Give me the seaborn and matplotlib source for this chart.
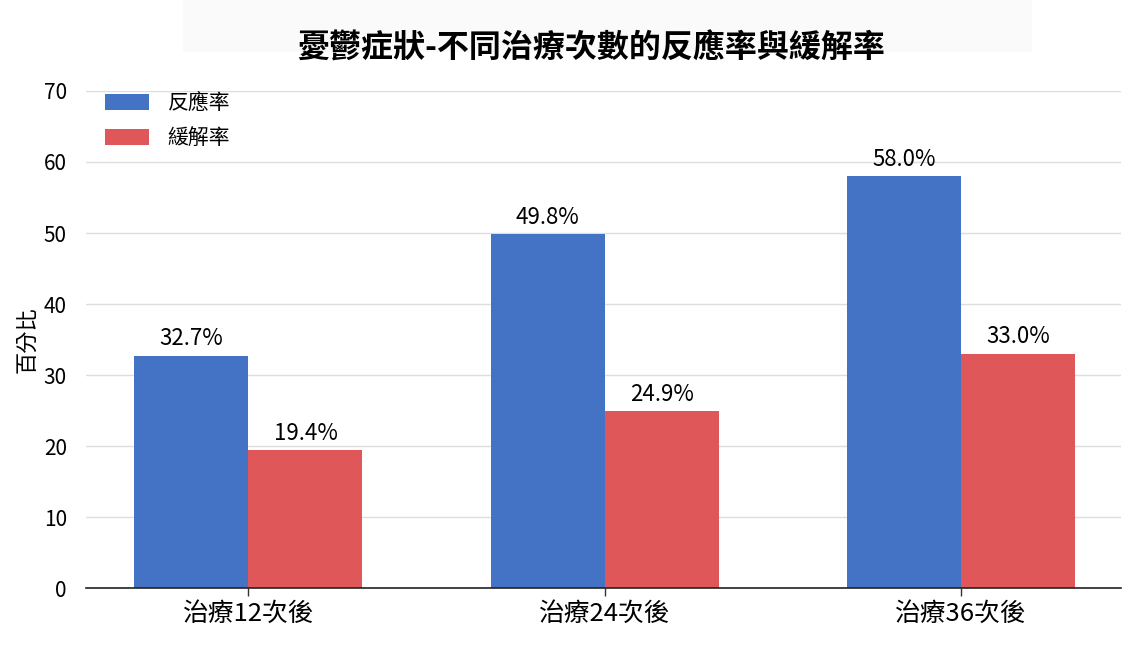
import pandas as pd
import matplotlib
matplotlib.use("Agg")
import matplotlib.pyplot as plt
import matplotlib.patches as mpatches
import seaborn as sns

# Data
groups = ['治療12次後', '治療24次後', '治療36次後']
response_rate = [32.7, 49.8, 58.0]
remission_rate = [19.4, 24.9, 33.0]
series_names = ['反應率', '緩解率']
colors = ['#4472C4', '#E05759']

df = pd.DataFrame({
    'group': groups * 2,
    'series': [series_names[0]] * 3 + [series_names[1]] * 3,
    'value': response_rate + remission_rate,
})

sns.set_theme(style='whitegrid')
plt.rcParams['font.family'] = ['Noto Sans CJK TC', 'DejaVu Sans']
plt.rcParams['text.color'] = 'black'
plt.rcParams['axes.labelcolor'] = 'black'
plt.rcParams['xtick.color'] = 'black'
plt.rcParams['ytick.color'] = 'black'

fig, ax = plt.subplots(figsize=(11.37, 6.45), dpi=100)
fig.subplots_adjust(left=0.076, right=0.986, top=0.859, bottom=0.088)

# faint title background
fig.patches.append(mpatches.Rectangle((0.161, 0.919), 0.747, 0.081,
                                      transform=fig.transFigure,
                                      facecolor='#fafafa', edgecolor='none', zorder=-1))

sns.barplot(data=df, x='group', y='value', hue='series', palette=colors,
            width=0.64, saturation=1, linewidth=0, ax=ax)

for cont in ax.containers:
    ax.bar_label(cont, fmt='%.1f%%', padding=4, fontsize=16)

ax.set_ylim(0, 70)
ax.set_xlim(-0.455, 2.45)
ax.set_yticks(range(0, 71, 10))
ax.set_xlabel('')
ax.set_ylabel('百分比', fontsize=16, labelpad=4)
ax.set_title('憂鬱症狀-不同治療次數的反應率與緩解率', fontsize=23, fontweight='bold',
             pad=24, x=0.488)
ax.tick_params(axis='y', labelsize=15, length=0, pad=14)
ax.tick_params(axis='x', labelsize=18.5, length=6, width=1, color='#333333', bottom=True, pad=3)

ax.grid(axis='x', visible=False)
ax.grid(axis='y', color='#dddddd', linewidth=1)
for s in ['top', 'right', 'left']:
    ax.spines[s].set_visible(False)
ax.spines['bottom'].set_color('#222222')
ax.spines['bottom'].set_linewidth(1.2)

ax.legend(loc='upper left', bbox_to_anchor=(0.0, 1.035), frameon=False, fontsize=15,
          handlelength=2.1, handleheight=0.8, labelspacing=0.6, handletextpad=0.9,
          borderaxespad=0.5, title=None)

fig.savefig('out.png', dpi=100)
